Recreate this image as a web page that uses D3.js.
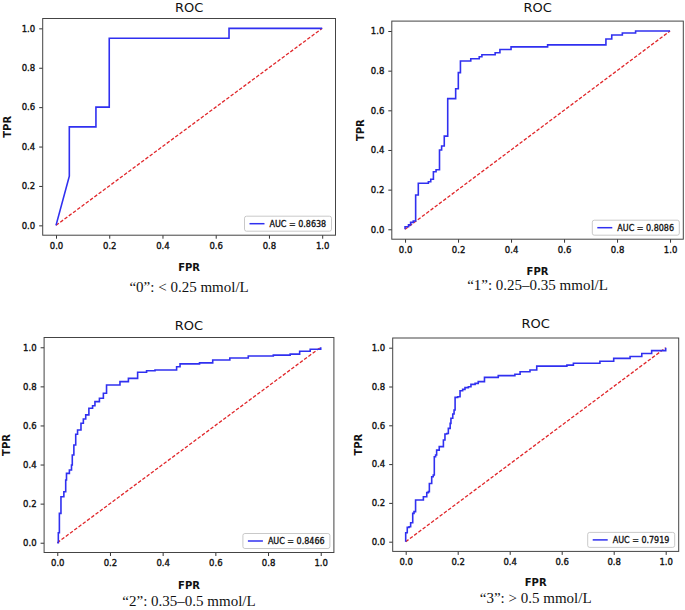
<!DOCTYPE html>
<html>
<head>
<meta charset="utf-8">
<script src="https://cdn.jsdelivr.net/npm/d3@7"></script>
<style>
  body { margin: 0; background: #fff; }
  svg text { font-family: "DejaVu Sans", sans-serif; }
</style>
</head>
<body>
<script>
// ROC points (fpr, tpr)
// panel "0" : plain polyline
const fpr0 = [0, 0.05, 0.05, 0.15, 0.15, 0.2, 0.2, 0.65, 0.65, 1.0];
const tpr0 = [0, 0.25, 0.5, 0.5, 0.6, 0.6, 0.95, 0.95, 1.0, 1.0];

// panels 1-3 : top of each vertical run, drawn as steps (right, then up)
const fpr1 = [0, 0, 0.013, 0.021, 0.031, 0.040, 0.050, 0.088, 0.097, 0.107, 0.117, 0.130, 0.138, 0.148, 0.161,
  0.191, 0.201, 0.209, 0.248, 0.28, 0.29, 0.34, 0.358, 0.40, 0.538, 0.758, 0.78, 0.82, 0.87, 1.0];
const tpr1 = [0, 0.013, 0.022, 0.035, 0.042, 0.173, 0.232, 0.24, 0.252, 0.29, 0.30, 0.40, 0.42, 0.47, 0.659,
  0.709, 0.79, 0.849, 0.86, 0.87, 0.88, 0.89, 0.907, 0.92, 0.93, 0.96, 0.98, 0.99, 1.0, 1.0];

const fpr2 = [0, 0.004, 0.008, 0.014, 0.025, 0.032, 0.035, 0.046, 0.054, 0.057, 0.063, 0.070, 0.077, 0.090, 0.099,
  0.108, 0.12, 0.134, 0.143, 0.16, 0.175, 0.187, 0.238, 0.27, 0.305, 0.339, 0.371, 0.453, 0.466, 0.54, 0.59,
  0.655, 0.725, 0.82, 0.884, 0.92, 0.96, 1.0];
const tpr2 = [0, 0.051, 0.150, 0.235, 0.261, 0.321, 0.355, 0.372, 0.398, 0.449, 0.50, 0.555, 0.577, 0.611, 0.633,
  0.654, 0.688, 0.701, 0.722, 0.739, 0.765, 0.807, 0.824, 0.841, 0.872, 0.88, 0.884, 0.90, 0.915, 0.92, 0.935,
  0.945, 0.955, 0.96, 0.965, 0.98, 0.99, 1.0];

const fpr3 = [0, 0, 0.006, 0.013, 0.019, 0.027, 0.032, 0.038, 0.068, 0.081, 0.087, 0.091, 0.10, 0.106, 0.110,
  0.115, 0.119, 0.129, 0.145, 0.151, 0.158, 0.164, 0.171, 0.174, 0.181, 0.186, 0.19, 0.20, 0.209, 0.219, 0.228,
  0.241, 0.251, 0.267, 0.279, 0.303, 0.356, 0.42, 0.44, 0.478, 0.504, 0.62, 0.645, 0.747, 0.8, 0.863, 0.908,
  0.946, 1.0];
const tpr3 = [0, 0.046, 0.074, 0.077, 0.098, 0.146, 0.155, 0.215, 0.232, 0.253, 0.258, 0.30, 0.335, 0.344, 0.438,
  0.447, 0.472, 0.49, 0.524, 0.555, 0.558, 0.584, 0.61, 0.636, 0.658, 0.679, 0.744, 0.747, 0.778, 0.785, 0.794,
  0.799, 0.811, 0.816, 0.825, 0.847, 0.856, 0.863, 0.876, 0.885, 0.905, 0.91, 0.92, 0.93, 0.945, 0.955, 0.97,
  0.985, 1.0];

const aucLabels = ["AUC = 0.8638", "AUC = 0.8086", "AUC = 0.8466", "AUC = 0.7919"];
const captions = ["\u201C0\u201D: < 0.25 mmol/L", "\u201C1\u201D: 0.25\u20130.35 mmol/L",
  "\u201C2\u201D: 0.35\u20130.5 mmol/L", "\u201C3\u201D: > 0.5 mmol/L"];
const ticks = [0, 0.2, 0.4, 0.6, 0.8, 1.0];

// layout of the four sub-plots (frame left, top, right, bottom)
const panels = [
  { fpr: fpr0, tpr: tpr0, curve: d3.curveLinear,    box: [42.7, 18.5, 335.5, 235.2], titleY: 12,  tprX: 7,   fprY: 271, capY: 292 },
  { fpr: fpr1, tpr: tpr1, curve: d3.curveStepAfter, box: [391.8, 21.1, 683.3, 239.2], titleY: 12, tprX: 360, fprY: 275, capY: 290 },
  { fpr: fpr2, tpr: tpr2, curve: d3.curveStepAfter, box: [44.1, 337.5, 333.9, 552.5], titleY: 330, tprX: 6,  fprY: 589, capY: 606 },
  { fpr: fpr3, tpr: tpr3, curve: d3.curveStepAfter, box: [392.7, 338, 678.7, 551.4], titleY: 328, tprX: 358, fprY: 586, capY: 603 }
];

const svg = d3.select("body").append("svg")
  .attr("width", 685)
  .attr("height", 610);

// slightly heavier text, like the scaled-down matplotlib figure
function heavy(sel, w) {
  sel.attr("stroke", "#111").attr("stroke-width", w).attr("paint-order", "stroke");
}

panels.forEach((p, i) => {
  const [l, t, r, b] = p.box;
  const x = d3.scaleLinear().domain([-0.05, 1.05]).range([l, r]);
  const y = d3.scaleLinear().domain([-0.05, 1.05]).range([b, t]);
  const g = svg.append("g");

  // axes
  g.append("g")
    .attr("transform", `translate(0,${b})`)
    .call(d3.axisBottom(x).tickValues(ticks).tickFormat(d3.format(".1f")).tickSize(3.5).tickPadding(4))
    .call(a => a.select(".domain").remove())
    .call(a => a.selectAll("line").attr("stroke", "#333"))
    .call(a => a.selectAll("text").attr("font-size", 8.5).attr("fill", "#111").style("font-family", "DejaVu Sans").call(heavy, 0.35));

  g.append("g")
    .attr("transform", `translate(${l},0)`)
    .call(d3.axisLeft(y).tickValues(ticks).tickFormat(d3.format(".1f")).tickSize(3.5).tickPadding(4))
    .call(a => a.select(".domain").remove())
    .call(a => a.selectAll("line").attr("stroke", "#333"))
    .call(a => a.selectAll("text").attr("font-size", 8.5).attr("fill", "#111").style("font-family", "DejaVu Sans").call(heavy, 0.35));

  // diagonal
  g.append("path")
    .datum([[0, 0], [1, 1]])
    .attr("d", d3.line().x(d => x(d[0])).y(d => y(d[1])))
    .attr("fill", "none")
    .attr("stroke", "#e0262a")
    .attr("stroke-width", 1.3)
    .attr("stroke-dasharray", "3.5,1.8");

  // ROC curve
  const pts = p.fpr.map((f, k) => [f, p.tpr[k]]);
  g.append("path")
    .datum(pts)
    .attr("d", d3.line().x(d => x(d[0])).y(d => y(d[1])).curve(p.curve))
    .attr("fill", "none")
    .attr("stroke", "#3030f0")
    .attr("stroke-width", 1.6);

  // frame
  g.append("rect")
    .attr("x", l).attr("y", t)
    .attr("width", r - l).attr("height", b - t)
    .attr("fill", "none")
    .attr("stroke", "#444")
    .attr("stroke-width", 1);

  // legend (lower right)
  const lw = 87, lh = 15;
  const lx = r - 4 - lw, ly = b - 4 - lh;
  g.append("rect")
    .attr("x", lx).attr("y", ly).attr("width", lw).attr("height", lh)
    .attr("rx", 2)
    .attr("fill", "#fff").attr("stroke", "#bbb").attr("stroke-width", 0.8);
  g.append("line")
    .attr("x1", lx + 5).attr("x2", lx + 20)
    .attr("y1", ly + lh / 2).attr("y2", ly + lh / 2)
    .attr("stroke", "#3030f0").attr("stroke-width", 1.5);
  g.append("text")
    .attr("x", lx + 25).attr("y", ly + lh / 2 + 3)
    .attr("font-size", 8).attr("fill", "#111")
    .call(heavy, 0.3)
    .text(aucLabels[i]);

  // titles and labels
  const cx = (l + r) / 2;
  g.append("text")
    .attr("x", cx).attr("y", p.titleY)
    .attr("text-anchor", "middle")
    .attr("font-size", 13).attr("fill", "#111")
    .text("ROC");

  g.append("text")
    .attr("x", cx).attr("y", p.fprY)
    .attr("text-anchor", "middle")
    .attr("font-size", 10).attr("font-weight", "bold").attr("fill", "#111")
    .text("FPR");

  g.append("text")
    .attr("transform", `translate(${p.tprX + 4},${(t + b) / 2}) rotate(-90)`)
    .attr("text-anchor", "middle")
    .attr("font-size", 10).attr("font-weight", "bold").attr("fill", "#111")
    .text("TPR");

  g.append("text")
    .attr("x", cx).attr("y", p.capY)
    .attr("text-anchor", "middle")
    .attr("font-size", 15).attr("fill", "#111")
    .style("font-family", "'Liberation Serif', 'Times New Roman', serif")
    .text(captions[i]);
});
</script>
</body>
</html>
